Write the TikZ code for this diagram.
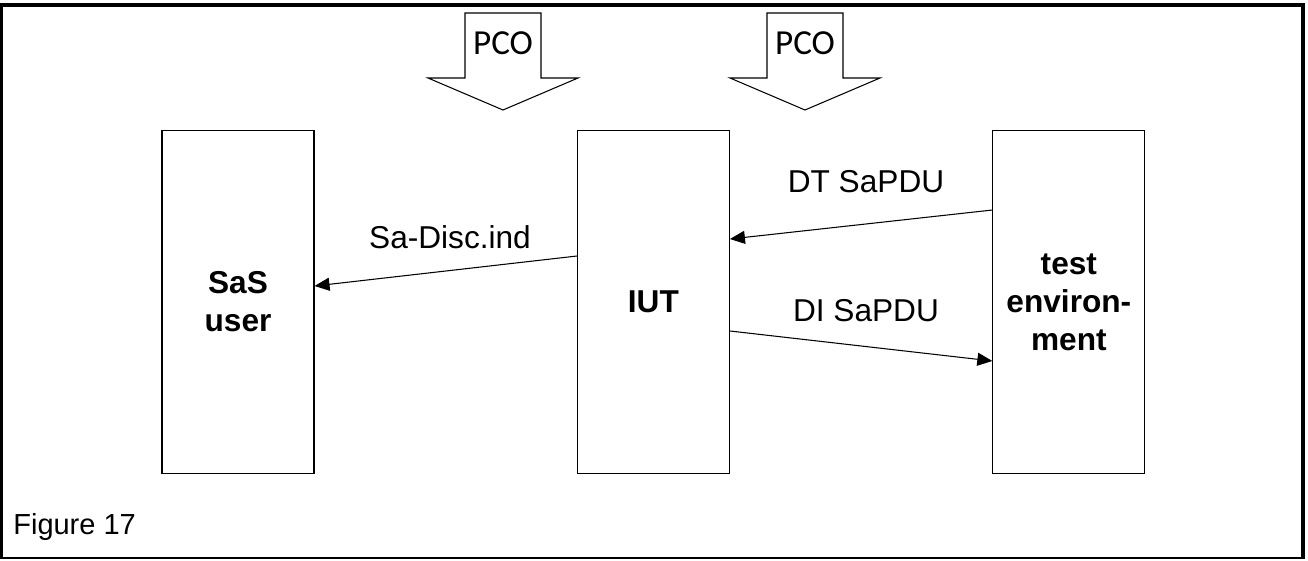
\documentclass[tikz,border=0pt]{standalone}
\usepackage{fontspec}
\setmainfont{Liberation Sans}
\newfontfamily\pcofont{Carlito}
\usetikzlibrary{arrows.meta}
\tikzstyle{block} = [rectangle, minimum width=3.04cm, minimum height=6.88cm, text centered, text width=2.8cm, draw=black, line width=0.6pt, font=\fontsize{18}{21.6}\selectfont\bfseries]
\tikzstyle{msg} = [font=\fontsize{18}{21.6}\selectfont]
\tikzstyle{arrow} = [line width=0.6pt, -{Triangle[length=0.3cm,width=0.26cm]}]
\tikzstyle{pco} = [draw=black, line width=0.6pt, fill=white]
\tikzstyle{pcotext} = [font=\fontsize{20}{24}\pcofont]
\tikzstyle{frame} = [draw=black]

\begin{document}
\begin{tikzpicture}[x=0.02cm, y=-0.02cm, node distance=8.31cm]
		\useasboundingbox (0,0) rectangle (1308,561);
		\draw [frame, line width=1.7pt] (1.5,3) -- (1.5,559);
		\draw [frame, line width=2.3pt] (0,5) -- (1305,5);
		\draw [frame, line width=2.3pt] (1303,3) -- (1303,559);
		\draw [frame, line width=1.2pt] (0,558) -- (1305,558);

		\node (SaS) [block] at (238,302) {SaS\\user};
		\node (IUT) [block, right of=SaS] {IUT};
		\node (test) [block, right of=IUT] {test\\environ-\\ment};

		\foreach \cx/\nm in {503/pcoa, 805/pcob} {
			\draw [pco] (\cx-38,13) -- (\cx+38,13) -- (\cx+38,78) -- (\cx+75,78) -- (\cx,110) -- (\cx-75,78) -- (\cx-38,78) -- cycle;
			\node (\nm) [pcotext] at (\cx,43) {PCO};
		}

		\draw [arrow] ([yshift=0.92cm]IUT.west) -- ([yshift=0.32cm]SaS.east);
		\draw [arrow] ([yshift=1.84cm]test.west) -- ([yshift=1.26cm]IUT.east);
		\draw [arrow] ([yshift=-0.58cm]IUT.east) -- ([yshift=-1.18cm]test.west);

		\node (disc) [msg] at (450,237) {Sa-Disc.ind};
		\node (dt) [msg] at (866,182) {DT SaPDU};
		\node (di) [msg] at (866,311) {DI SaPDU};
		\node (caption) [msg, anchor=west, inner sep=0pt, font=\fontsize{16.5}{20}\selectfont] at (13,527) {Figure 17};
	\end{tikzpicture}
\end{document}
